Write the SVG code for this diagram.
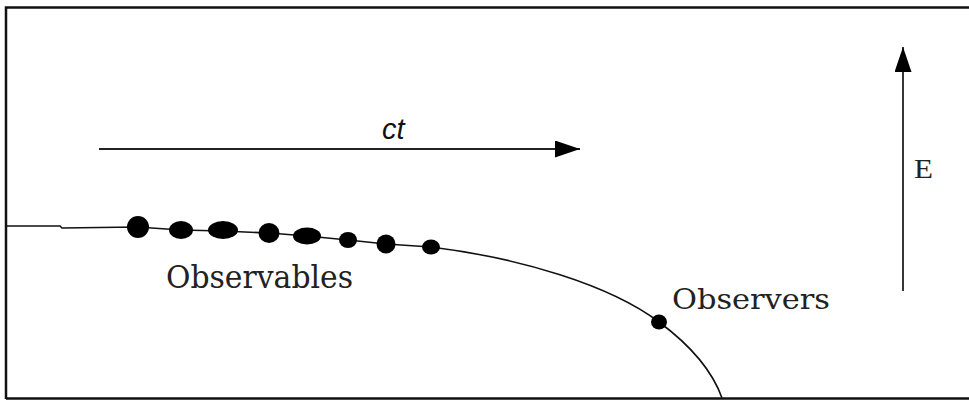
<svg xmlns="http://www.w3.org/2000/svg" width="969" height="400" viewBox="0 0 969 400">
<style>
.frame{stroke:#111;stroke-width:2.5;fill:none}
.curve{stroke:#111;stroke-width:1.6;fill:none}
.axis{stroke:#222;stroke-width:1.8;fill:none}
.dot{fill:#000}
.lbl{font-family:"DejaVu Serif","Liberation Serif",serif;fill:#222}
</style>
<defs>
<marker id="ah" markerWidth="26" markerHeight="18" refX="25" refY="8.5" orient="auto" markerUnits="userSpaceOnUse">
<path d="M0,0 L25,8.5 L0,17 Z" fill="#000"/>
</marker>
</defs>
<rect x="0" y="0" width="969" height="400" fill="#fff"/>
<path class="frame" d="M6,399 V7.5 H969 M6,398.5 H969"/>
<g id="connectors">
<path id="ct-axis" class="axis" d="M99,149 H580" marker-end="url(#ah)"/>
<path id="E-axis" class="axis" stroke="#555" d="M903,291 V47" marker-end="url(#ah)"/>
<path id="worldline" class="curve" d="M6,226 H60 L62,228 L137,227 L181,230 L223,231 L269,233 L307,236 L348,240 L386,244 L431,247 C520,258 610,285 659,322 C690,345 712,370 722,398"/>
</g>
<g id="observables">
<ellipse class="dot" cx="138" cy="227" rx="11" ry="11"/>
<ellipse class="dot" cx="181" cy="230" rx="12" ry="9"/>
<ellipse class="dot" cx="223" cy="230" rx="15" ry="9"/>
<ellipse class="dot" cx="269" cy="233" rx="10.5" ry="10"/>
<ellipse class="dot" cx="307" cy="236" rx="14" ry="8.5"/>
<ellipse class="dot" cx="348" cy="240" rx="9" ry="8"/>
<ellipse class="dot" cx="386" cy="244" rx="9.5" ry="9.5"/>
<ellipse class="dot" cx="431" cy="247" rx="9" ry="7.5"/>
<text class="lbl" x="166" y="288" font-size="32" textLength="187" lengthAdjust="spacingAndGlyphs">Observables</text>
</g>
<g id="observers">
<ellipse class="dot" cx="659" cy="322" rx="8" ry="7.5"/>
<text class="lbl" x="672" y="309" font-size="28" textLength="158" lengthAdjust="spacingAndGlyphs">Observers</text>
</g>
<g id="ct-label">
<text x="382" y="139" font-family="Liberation Sans, Arial, sans-serif" font-style="italic" font-size="29" fill="#111">ct</text>
</g>
<g id="E-label">
<text x="914" y="178" font-family="Liberation Serif, serif" font-size="27" textLength="19" lengthAdjust="spacingAndGlyphs" fill="#222">E</text>
</g>
</svg>
